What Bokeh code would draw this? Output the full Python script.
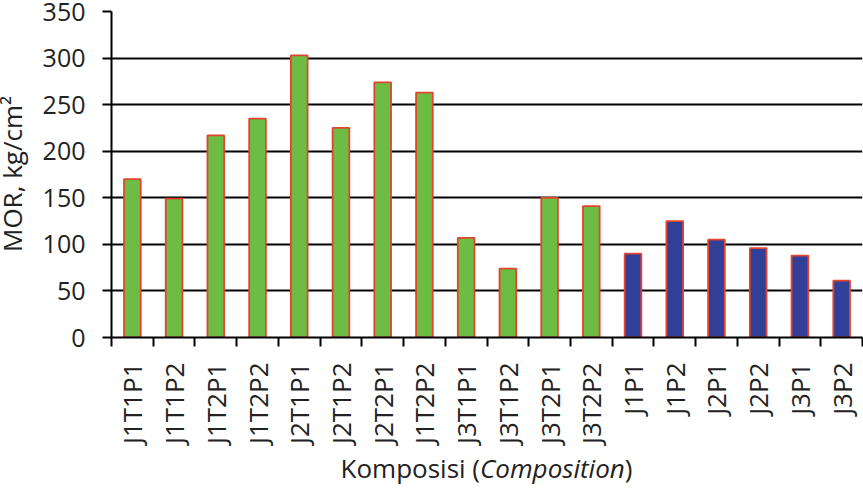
from bokeh.plotting import figure
from bokeh.models import ColumnDataSource, FixedTicker, Range1d, Div
from bokeh.layouts import column, row
from bokeh.embed import file_html
from bokeh.resources import INLINE
from math import pi

# Composition codes (J1T2P2 appears twice in the series)
categories = ["J1T1P1", "J1T1P2", "J1T2P1", "J1T2P2", "J2T1P1", "J2T1P2",
              "J2T2P1", "J1T2P2", "J3T1P1", "J3T1P2", "J3T2P1", "J3T2P2",
              "J1P1", "J1P2", "J2P1", "J2P2", "J3P1", "J3P2"]
# Modulus of rupture, kg/cm2
mor_values = [170, 149, 217, 235, 303, 225, 274, 263, 107, 74, 150, 141,
              90, 125, 105, 96, 88, 61]
# Group of each composition: first twelve with T factor, last six without
groups = ["T"] * 12 + ["P"] * 6
y_ticks = [0, 50, 100, 150, 200, 250, 300, 350]

FONT = "Open Sans"
GREEN = "#6DBD45"
NAVY = "#323F98"
RED = "#E2452C"
TEXT = "#222222"

pos = list(range(len(categories)))
colors = [GREEN if g == "T" else NAVY for g in groups]
src = ColumnDataSource(dict(x=pos, top=mor_values, color=colors))

W = 863
YT_W = 30                      # strip holding the rotated y axis title
FIG_H, TITLE_H = 453, 36
LEFT, RIGHT, TOP, BOTTOM = 111 - YT_W, 1, 11, 116

p = figure(width=W - YT_W, height=FIG_H, output_backend="svg", toolbar_location=None,
           x_range=Range1d(-0.5, len(categories) - 0.5), y_range=Range1d(0, 350),
           min_border_left=LEFT, min_border_right=RIGHT,
           min_border_top=TOP, min_border_bottom=BOTTOM)
p.outline_line_color = None
p.background_fill_color = "white"
p.border_fill_color = "white"

p.vbar(x="x", top="top", width=0.4, bottom=0, source=src,
       fill_color="color", line_color=RED, line_width=1.8)

# x axis: labels at bar centres, short ticks on category boundaries
xa = p.xaxis[0]
xa.ticker = FixedTicker(ticks=pos, minor_ticks=[i - 0.5 for i in range(len(categories) + 1)])
xa.major_label_overrides = {i: c for i, c in enumerate(categories)}
xa.major_label_orientation = pi / 2
xa.major_tick_line_color = None
xa.major_tick_out = 0
xa.major_tick_in = 0
xa.minor_tick_out = 9
xa.minor_tick_in = 0
xa.minor_tick_line_color = "black"
xa.minor_tick_line_width = 2
xa.axis_line_color = "black"
xa.axis_line_width = 2
xa.major_label_standoff = 16
xa.major_label_text_font = FONT
xa.major_label_text_font_size = "26px"
xa.major_label_text_color = TEXT

ya = p.yaxis[0]
ya.ticker = FixedTicker(ticks=y_ticks)
ya.major_tick_out = 9
ya.major_tick_in = 0
ya.major_tick_line_width = 2
ya.minor_tick_line_color = None
ya.axis_line_width = 2
ya.major_label_standoff = 17
ya.major_label_text_font = FONT
ya.major_label_text_font_size = "25px"
ya.major_label_text_color = TEXT

p.ygrid.grid_line_color = "black"
p.ygrid.grid_line_width = 2
p.xgrid.grid_line_color = None

# y axis title, rotated to read upwards, centred on the plot frame
frame_mid = TOP + (FIG_H - BOTTOM - TOP) / 2
ytitle = Div(
    text=("<div style=\"position:absolute; left:12px; top:%dpx; "
          "transform:translate(-50%%,-50%%) rotate(-90deg); white-space:nowrap; "
          "font-family:'Open Sans'; font-size:26px; line-height:24px; color:%s;\">"
          "MOR, kg/cm&sup2;</div>") % (frame_mid, TEXT),
    width=YT_W, height=FIG_H, margin=0,
    styles={"position": "relative", "overflow": "visible", "background-color": "white"})

# x axis title, with the English term in italics, centred under the plot frame
xtitle = Div(text="Komposisi (<i>Composition</i>)",
             width=W - 111 - RIGHT, height=TITLE_H, margin=(0, RIGHT, 0, 111),
             styles={"font-family": FONT, "font-size": "26px", "color": TEXT,
                     "text-align": "center", "line-height": "30px",
                     "background-color": "white"})

layout = column(row(ytitle, p, spacing=0, margin=0), xtitle,
                spacing=0, margin=0, background="white")
open("out.html", "w").write(file_html(layout, INLINE))
